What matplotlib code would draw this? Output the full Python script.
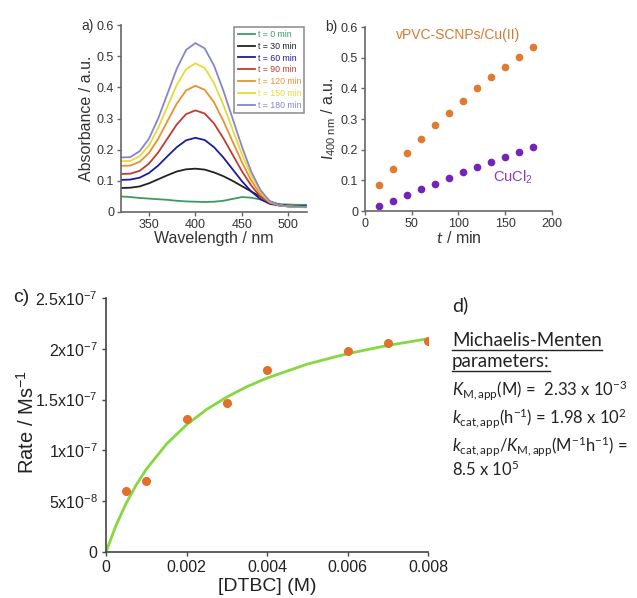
import matplotlib
matplotlib.use("Agg")
import matplotlib.pyplot as plt
from matplotlib.lines import Line2D

plt.rcParams['font.family'] = ['Liberation Sans', 'DejaVu Sans']
plt.rcParams['mathtext.fontset'] = 'custom'
plt.rcParams['mathtext.rm'] = 'Lato'
plt.rcParams['mathtext.it'] = 'Lato:italic'
plt.rcParams['mathtext.bf'] = 'Lato:bold'

# a) UV-vis spectra --------------------------------
wavelength = [320, 330, 340, 350, 360, 370, 380, 390, 400, 410, 420,
              430, 440, 450, 460, 470, 480, 490, 500, 510, 520]
abs_0 = [0.050, 0.048, 0.045, 0.043, 0.041, 0.039, 0.036, 0.034, 0.033, 0.032, 0.033,
         0.036, 0.042, 0.048, 0.046, 0.040, 0.030, 0.025, 0.024, 0.023, 0.023]
abs_30 = [0.077, 0.078, 0.082, 0.092, 0.105, 0.118, 0.130, 0.137, 0.139, 0.136, 0.127,
          0.115, 0.100, 0.083, 0.066, 0.049, 0.034, 0.024, 0.020, 0.019, 0.018]
abs_60 = [0.103, 0.104, 0.110, 0.125, 0.149, 0.179, 0.208, 0.230, 0.238, 0.231, 0.208,
          0.175, 0.137, 0.099, 0.066, 0.041, 0.026, 0.021, 0.018, 0.017, 0.016]
abs_90 = [0.122, 0.123, 0.132, 0.155, 0.191, 0.236, 0.281, 0.314, 0.326, 0.316, 0.284,
          0.237, 0.184, 0.131, 0.085, 0.049, 0.029, 0.021, 0.018, 0.017, 0.016]
abs_120 = [0.148, 0.149, 0.161, 0.189, 0.235, 0.292, 0.348, 0.390, 0.405, 0.392, 0.352,
           0.293, 0.226, 0.160, 0.101, 0.057, 0.031, 0.022, 0.018, 0.016, 0.015]
abs_150 = [0.163, 0.164, 0.179, 0.213, 0.270, 0.339, 0.408, 0.458, 0.477, 0.462, 0.414,
           0.344, 0.265, 0.186, 0.116, 0.064, 0.033, 0.022, 0.018, 0.017, 0.016]
abs_180 = [0.175, 0.176, 0.195, 0.235, 0.300, 0.380, 0.460, 0.520, 0.542, 0.525, 0.470,
           0.390, 0.300, 0.210, 0.130, 0.070, 0.035, 0.022, 0.018, 0.017, 0.016]
spectra = [abs_0, abs_30, abs_60, abs_90, abs_120, abs_150, abs_180]
spec_labels = ['t = 0 min', 't = 30 min', 't = 60 min', 't = 90 min',
               't = 120 min', 't = 150 min', 't = 180 min']
spec_colors = ['#3f9a62', '#222222', '#1c1ca0', '#c23a32', '#e8922e', '#e6dc34', '#8585d2']

# b) I400 vs time ----------------------------------
time_min = [15, 30, 45, 60, 75, 90, 105, 120, 135, 150, 165, 180]
i400_scnp = [0.084, 0.138, 0.189, 0.236, 0.279, 0.320, 0.359, 0.401, 0.436, 0.471, 0.502, 0.534]
i400_cucl2 = [0.015, 0.033, 0.053, 0.072, 0.088, 0.108, 0.126, 0.143, 0.159, 0.177, 0.193, 0.209]

# c) Michaelis-Menten ------------------------------
dtbc = [0.0005, 0.001, 0.002, 0.003, 0.004, 0.006, 0.007, 0.008]
rate = [6.0e-8, 7.0e-8, 1.31e-7, 1.47e-7, 1.79e-7, 1.98e-7, 2.06e-7, 2.08e-7]
fit_x = [0, 0.00025, 0.0005, 0.00075, 0.001, 0.0015, 0.002, 0.0025, 0.003,
         0.0035, 0.004, 0.005, 0.006, 0.007, 0.008]
fit_y = [0, 2.63e-8, 4.79e-8, 6.60e-8, 8.14e-8, 1.061e-7, 1.252e-7, 1.403e-7, 1.525e-7,
         1.627e-7, 1.712e-7, 1.849e-7, 1.952e-7, 2.033e-7, 2.099e-7]

W, H = 637, 598
fig = plt.figure(figsize=(W / 100, H / 100), dpi=100)


def box(l, t, r, b):
    return [l / W, 1 - b / H, (r - l) / W, (b - t) / H]


def style(ax, col='#666666'):
    for s in ['top', 'right']:
        ax.spines[s].set_visible(False)
    for s in ['left', 'bottom']:
        ax.spines[s].set_color(col)
        ax.spines[s].set_linewidth(1.2)
    ax.tick_params(colors=col, labelcolor='#333333', length=3, width=1, pad=2)


def fmt1(v):
    return '0' if v == 0 else '%.1f' % v


# panel a
ax = fig.add_axes(box(121, 25, 307, 212))
for vals, lab, col in zip(spectra, spec_labels, spec_colors):
    ax.plot(wavelength, vals, color=col, lw=1.3, label=lab)
ax.set_xlim(320, 520)
ax.set_ylim(0, 0.6)
ax.set_xticks([350, 400, 450, 500])
yt = [0, 0.1, 0.2, 0.3, 0.4, 0.5, 0.6]
ax.set_yticks(yt)
ax.set_yticklabels([fmt1(v) for v in yt])
style(ax)
ax.tick_params(labelsize=9)
ax.set_xlabel('Wavelength / nm', fontsize=11.5, color='#333333', labelpad=0)
ax.set_ylabel('Absorbance / a.u.', fontsize=11.5, color='#333333', labelpad=2)
leg = ax.legend(loc='upper right', bbox_to_anchor=(0.985, 0.99), fontsize=6.3,
                handlelength=2.0, handletextpad=0.3, labelspacing=0.32, borderpad=0.35,
                fancybox=False, edgecolor='#777777', borderaxespad=0)
leg.get_frame().set_linewidth(1.2)
for t, l in zip(leg.get_texts(), leg.get_lines()):
    t.set_color(l.get_color())

# panel b
bx = fig.add_axes(box(365, 27, 552, 211))
bx.plot(time_min, i400_scnp, 'o', color='#e07a30', ms=4.5)
bx.plot(time_min, i400_cucl2, 'o', color='#7424b8', ms=4.5)
bx.set_xlim(0, 200)
bx.set_ylim(0, 0.6)
bx.set_xticks([0, 50, 100, 150, 200])
bx.set_yticks(yt)
bx.set_yticklabels([fmt1(v) for v in yt])
style(bx)
bx.tick_params(labelsize=9)
bx.set_xlabel(r'$\mathit{t}$ / min', fontsize=11.5, color='#333333', labelpad=0)
bx.set_ylabel(r'$\mathit{I}_{\mathregular{400\ nm}}$ / a.u.', fontsize=11.5,
              color='#333333', labelpad=2)
bx.text(100, 0.575, 'vPVC-SCNPs/Cu(II)', color='#d9782e', fontsize=10, ha='center', va='center')
bx.text(158, 0.11, r'$\mathregular{CuCl_2}$', color='#8a3ab8', fontsize=10.5, ha='center',
        va='center')

# panel c
cx = fig.add_axes(box(106, 298, 428, 552))
cx.plot(fit_x, fit_y, color='#86d840', lw=2)
cx.plot(dtbc, rate, 'o', color='#e0702a', ms=5.5)
cx.set_xlim(0, 0.008)
cx.set_ylim(0, 2.5e-7)
cx.set_xticks([0, 0.002, 0.004, 0.006, 0.008])
cx.set_xticklabels(['0', '0.002', '0.004', '0.006', '0.008'])
cx.set_yticks([0, 5e-8, 1e-7, 1.5e-7, 2e-7, 2.5e-7])
cx.set_yticklabels(['0', r'$\mathregular{5x10^{-8}}$', r'$\mathregular{1x10^{-7}}$',
                    r'$\mathregular{1.5x10^{-7}}$', r'$\mathregular{2x10^{-7}}$',
                    r'$\mathregular{2.5x10^{-7}}$'])
style(cx, '#444444')
cx.tick_params(labelsize=11.5, labelcolor='#222222', pad=3)
cx.set_xlabel('[DTBC] (M)', fontsize=14, color='#222222', labelpad=2)
cx.set_ylabel(r'Rate / $\mathregular{Ms^{-1}}$', fontsize=14.5, color='#222222')
cx.yaxis.set_label_coords(-0.212, 0.51)

# panel labels
fig.text(81 / W, 1 - 26 / H, 'a)', fontsize=10, color='#333333', va='center')
fig.text(325 / W, 1 - 27 / H, 'b)', fontsize=10, color='#333333', va='center')
fig.text(13 / W, 1 - 298 / H, 'c)', fontsize=14, color='#222222', va='center')

# panel d text
dfont = dict(family='Lato', color='#222222', va='center')
fig.text(452 / W, 1 - 305 / H, 'd)', fontsize=14, **dfont)
t1 = fig.text(452 / W, 1 - 341 / H, 'Michaelis-Menten', fontsize=13.5, **dfont)
t2 = fig.text(452 / W, 1 - 362 / H, 'parameters:', fontsize=13.5, **dfont)
fig.text(452 / W, 1 - 390 / H, r'$K_{\mathrm{M,app}}$(M) =  2.33 x 10$^{\mathrm{-3}}$',
         fontsize=12, **dfont)
fig.text(452 / W, 1 - 418 / H, r'$k_{\mathrm{cat,app}}$(h$^{\mathrm{-1}}$) = 1.98 x 10$^{\mathrm{2}}$',
         fontsize=12, **dfont)
fig.text(452 / W, 1 - 446 / H,
         r'$k_{\mathrm{cat,app}}$/$K_{\mathrm{M,app}}$(M$^{\mathrm{-1}}$h$^{\mathrm{-1}}$) =',
         fontsize=12, **dfont)
fig.text(452 / W, 1 - 469 / H, r'8.5 x 10$^{\mathrm{5}}$', fontsize=12, **dfont)

# underline the heading
fig.canvas.draw()
for t in [t1, t2]:
    bb = t.get_window_extent()
    y = (bb.y0 - 0.5) / H
    fig.add_artist(Line2D([bb.x0 / W, bb.x1 / W], [y, y], color='#222222', lw=1))

fig.savefig('out.png', dpi=100)
